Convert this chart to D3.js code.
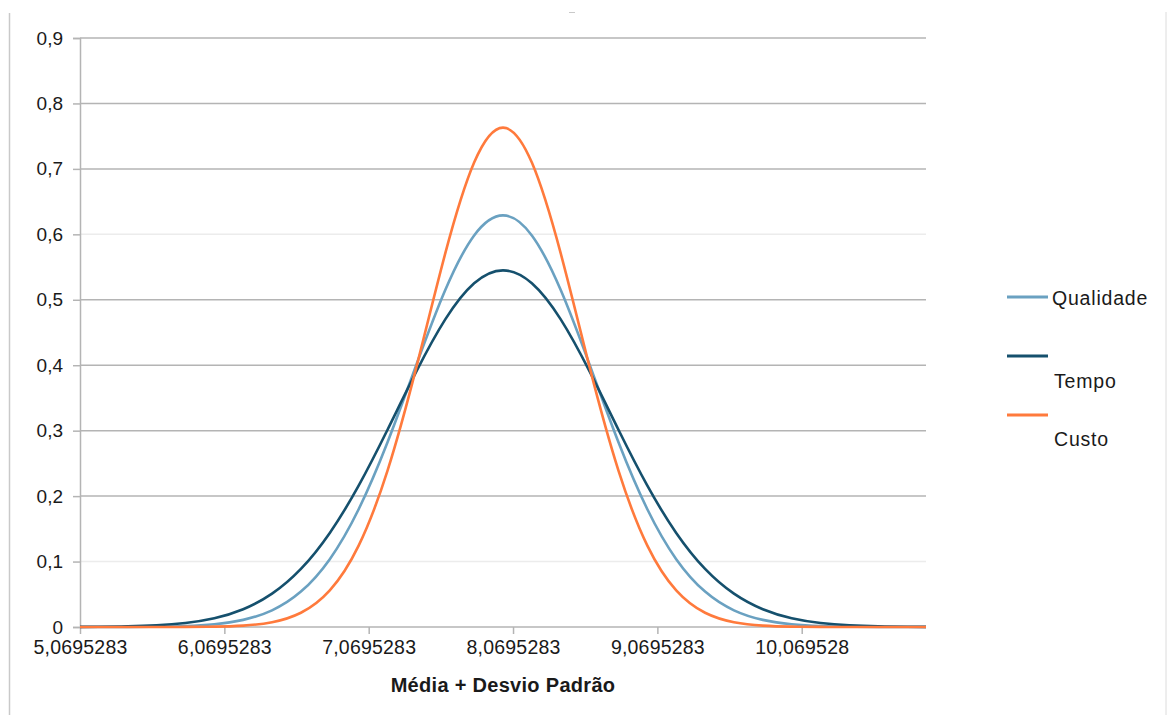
<!DOCTYPE html>
<html>
<head>
<meta charset="utf-8">
<script src="https://cdn.jsdelivr.net/npm/d3@7"></script>
<style>
  body { margin: 0; background: #fff; }
  text { font-family: "Liberation Sans", Arial, sans-serif; fill: #1a1a1a; }
</style>
</head>
<body>
<div id="chart"></div>
<script>
// x positions of the sampled points (mean 8.0)
const xValues = [5.0695, 5.2, 5.4, 5.6, 5.8, 6.0, 6.2, 6.4, 6.6, 6.8, 7.0, 7.2, 7.4, 7.6, 7.8, 8.0,
  8.2, 8.4, 8.6, 8.8, 9.0, 9.2, 9.4, 9.6, 9.8, 10.0, 10.2, 10.4, 10.6, 10.8, 10.9305];

const qualidade = [0.00001, 0.00003, 0.00013, 0.00046, 0.00147, 0.00421, 0.0109, 0.0255, 0.0541, 0.1037, 0.1799, 0.2823, 0.4008, 0.5148, 0.5983, 0.629,
  0.5983, 0.5148, 0.4008, 0.2823, 0.1799, 0.1037, 0.0541, 0.0255, 0.0109, 0.00421, 0.00147, 0.00046, 0.00013, 0.00003, 0.00001];
const tempo = [0.00019, 0.00038, 0.00105, 0.00264, 0.00618, 0.0134, 0.0272, 0.0510, 0.0888, 0.1438, 0.2160, 0.3014, 0.3905, 0.4700, 0.5252, 0.545,
  0.5252, 0.4700, 0.3905, 0.3014, 0.2160, 0.1438, 0.0888, 0.0510, 0.0272, 0.0134, 0.00618, 0.00264, 0.00105, 0.00038, 0.00019];
const custo = [0, 0, 0, 0.00002, 0.00012, 0.00054, 0.00214, 0.00734, 0.0218, 0.0560, 0.1244, 0.2390, 0.3971, 0.5708, 0.7096, 0.763,
  0.7096, 0.5708, 0.3971, 0.2390, 0.1244, 0.0560, 0.0218, 0.00734, 0.00214, 0.00054, 0.00012, 0.00002, 0, 0, 0];

const seriesNames = ['Qualidade', 'Tempo', 'Custo'];
const seriesColors = ['#6aa1c1', '#15506d', '#ff7a3c'];

const xTicks = [5.0695283, 6.0695283, 7.0695283, 8.0695283, 9.0695283, 10.069528];
const xTickLabels = ['5,0695283', '6,0695283', '7,0695283', '8,0695283', '9,0695283', '10,069528'];
const yTicks = [0, 0.1, 0.2, 0.3, 0.4, 0.5, 0.6, 0.7, 0.8, 0.9];
const yTickLabels = ['0', '0,1', '0,2', '0,3', '0,4', '0,5', '0,6', '0,7', '0,8', '0,9'];
const faintGrid = [0.1, 0.6];

const W = 1167, H = 715;
const margin = {top: 38, right: 241, bottom: 88, left: 80};
const width = W - margin.left - margin.right;
const height = H - margin.top - margin.bottom;
const font = '"Liberation Sans", Arial, sans-serif';

const svg = d3.select('#chart').append('svg')
  .attr('width', W)
  .attr('height', H);

// frame remnants
svg.append('line').attr('x1', 9.5).attr('x2', 9.5).attr('y1', 13).attr('y2', H)
  .attr('stroke', '#c9c9c9').attr('stroke-width', 1.5);
svg.append('line').attr('x1', 1166).attr('x2', 1166).attr('y1', 12).attr('y2', H)
  .attr('stroke', '#dcdcdc').attr('stroke-width', 1);
svg.append('line').attr('x1', 569).attr('x2', 575).attr('y1', 12.5).attr('y2', 12.5)
  .attr('stroke', '#c9c9c9').attr('stroke-width', 1);

const g = svg.append('g').attr('transform', `translate(${margin.left},${margin.top})`);

const x = d3.scaleLinear().domain([5.0695283, 10.9305]).range([0, width]);
const y = d3.scaleLinear().domain([0, 0.9]).range([height, 0]);

// gridlines
g.selectAll('.grid')
  .data(yTicks.slice(1))
  .enter().append('line')
  .attr('class', 'grid')
  .attr('x1', 0).attr('x2', width)
  .attr('y1', d => y(d)).attr('y2', d => y(d))
  .attr('stroke', d => faintGrid.includes(d) ? '#ececec' : '#b4b4b4')
  .attr('stroke-width', 1.5);

// y axis
const yAxis = g.append('g')
  .call(d3.axisLeft(y).tickValues(yTicks).tickSize(7).tickPadding(10)
    .tickFormat((d, i) => yTickLabels[i]));
yAxis.select('.domain').attr('stroke', '#b4b4b4').attr('stroke-width', 1.5);
yAxis.selectAll('.tick line').attr('stroke', '#b4b4b4').attr('stroke-width', 1.5);
yAxis.selectAll('.tick text').style('font-size', '19px').attr('fill', '#1a1a1a')
  .style('font-family', font);

// x axis
const xAxis = g.append('g')
  .attr('transform', `translate(0,${height})`)
  .call(d3.axisBottom(x).tickValues(xTicks).tickSize(7).tickPadding(6)
    .tickFormat((d, i) => xTickLabels[i]));
xAxis.select('.domain').attr('stroke', '#b4b4b4').attr('stroke-width', 1.5)
  .attr('d', `M0,0H${width}`);
xAxis.selectAll('.tick line').attr('stroke', '#b4b4b4').attr('stroke-width', 1.5);
xAxis.selectAll('.tick text').style('font-size', '19.5px').attr('fill', '#1a1a1a')
  .style('font-family', font).style('letter-spacing', '0.2px');

// x title
g.append('text')
  .attr('x', x(8.0)).attr('y', height + 65)
  .attr('text-anchor', 'middle')
  .style('font-size', '20px').style('font-weight', 'bold')
  .style('letter-spacing', '0.3px')
  .text('Média + Desvio Padrão');

// curves
const line = d3.line()
  .x((d, i) => x(xValues[i]))
  .y(d => y(d))
  .curve(d3.curveNatural);

[qualidade, tempo, custo].forEach((vals, k) => {
  g.append('path')
    .datum(vals)
    .attr('fill', 'none')
    .attr('stroke', seriesColors[k])
    .attr('stroke-width', 2.6)
    .attr('d', line);
});

// legend
const legendRows = [
  {lineY: 297, textY: 305},
  {lineY: 356, textY: 388},
  {lineY: 415, textY: 446}
];
const legend = svg.append('g');
seriesNames.forEach((name, k) => {
  legend.append('line')
    .attr('x1', 1007).attr('x2', 1048)
    .attr('y1', legendRows[k].lineY).attr('y2', legendRows[k].lineY)
    .attr('stroke', seriesColors[k]).attr('stroke-width', 3);
  legend.append('text')
    .attr('x', k === 0 ? 1052 : 1054).attr('y', legendRows[k].textY)
    .style('font-size', '19.5px')
    .style('letter-spacing', '0.8px')
    .text(name);
});
</script>
</body>
</html>
